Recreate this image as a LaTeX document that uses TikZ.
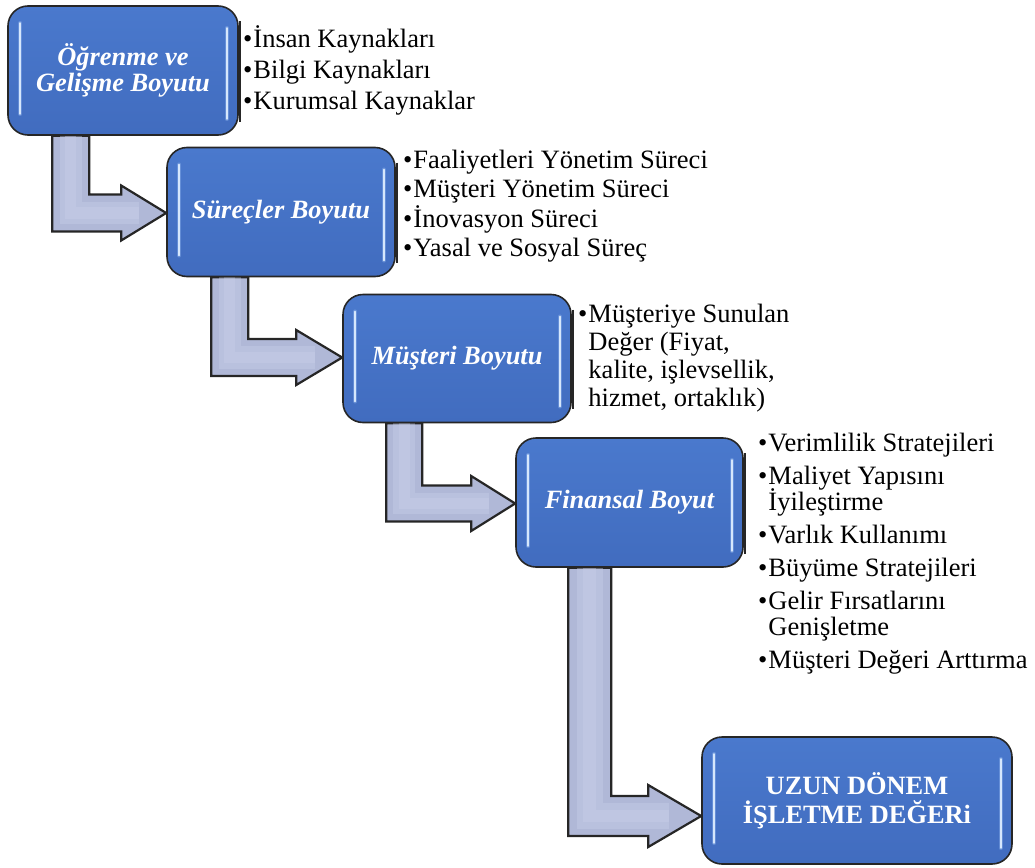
\documentclass[tikz,border=0pt]{standalone}
\usepackage{fontspec}
\setmainfont{Liberation Serif}
\usetikzlibrary{calc,backgrounds}

\definecolor{boxtop}{HTML}{4A79CD}
\definecolor{boxbot}{HTML}{416CBF}
\definecolor{glintcol}{HTML}{D6E7FC}
\definecolor{glowcol}{HTML}{8DB2EC}
\definecolor{arrowfill}{HTML}{B0B8D7}
\definecolor{arrowlight}{HTML}{C8CFEA}
\definecolor{edgecol}{HTML}{262626}

% bullet list set in a top-aligned minipage: #1 line distance, #2 gap between items, #3 items
\newcommand{\stagelist}[3]{%
  \begin{minipage}[t]{330pt}%
    \fontsize{26.5}{#1}\selectfont\lineskiplimit=-100pt\parindent=0pt\parskip=#2\relax
    \raggedright #3%
  \end{minipage}}
\newcommand{\blt}{\textbullet\hspace{1pt}}
\newcommand{\contind}{\hphantom{\textbullet\hspace{1pt}}}

% bent block arrow from the bottom of one stage into the left side of the next
% #1 from, #2 to, #3 stem offset, #4 stem width, #5 bar half width, #6 head half height, #7 head length, #8 tip drop
\newcommand{\stagearrow}[8]{%
  \draw[bentarrow] let \p1=(#1.south west), \p2=($(#2.west)+(0,#8)$) in
    (\x1+#3pt,\y1) -- (\x1+#3pt,\y2-#5pt) -- (\x2-#7pt,\y2-#5pt) -- (\x2-#7pt,\y2-#6pt)
    -- (\x2,\y2) -- (\x2-#7pt,\y2+#6pt) -- (\x2-#7pt,\y2+#5pt)
    -- (\x1+#3pt+#4pt,\y2+#5pt) -- (\x1+#3pt+#4pt,\y1) -- cycle;
  % soft light band along the middle of the body
  \draw[arrowsheen, line width=0.6*#4pt] let \p1=(#1.south west), \p2=($(#2.west)+(0,#8)$) in
    (\x1+#3pt+0.5*#4pt,\y1) -- (\x1+#3pt+0.5*#4pt,\y2) -- (\x2-0.6*#7pt,\y2);
  \draw[arrowsheen, line width=0.3*#4pt] let \p1=(#1.south west), \p2=($(#2.west)+(0,#8)$) in
    (\x1+#3pt+0.5*#4pt,\y1) -- (\x1+#3pt+0.5*#4pt,\y2) -- (\x2-0.6*#7pt,\y2);}

\tikzset{
  stage/.style={draw=edgecol, line width=1.6pt, rounded corners=20pt,
    top color=boxtop, bottom color=boxbot, text=white, align=center, inner sep=0pt,
    font=\fontsize{26.4}{26}\selectfont\bfseries\itshape},
  bentarrow/.style={draw=edgecol, line width=2.2pt, line join=miter, fill=arrowfill},
  arrowsheen/.style={arrowlight, opacity=0.4, line join=miter},
  glow/.style={glowcol, line width=4.5pt, line cap=round, opacity=0.45},
  glint/.style={glintcol, line width=2.2pt, line cap=round},
  panel/.style={edgecol, line width=2pt},
  listtext/.style={anchor=base west, inner sep=0pt, text=black}
}

\begin{document}
\begin{tikzpicture}[x=1pt, y=-1pt]
\useasboundingbox (0,0) rectangle (1035,867);

% stages
\node[stage, minimum width=230pt, minimum height=129pt] (b1) at (123,70.5) {Öğrenme ve\\Gelişme Boyutu};
\node[stage, minimum width=228pt, minimum height=129pt] (b2) at (281,212) {Süreçler Boyutu};
\node[stage, minimum width=228pt, minimum height=128pt] (b3) at (457,358.5) {Müşteri Boyutu};
\node[stage, minimum width=227pt, minimum height=129pt] (b4) at (629.5,502.5) {Finansal Boyut};
\node[stage, minimum width=310pt, minimum height=127pt,
      font=\fontsize{26.4}{29}\selectfont\bfseries] (b5) at (857,800.5) {UZUN DÖNEM\\İŞLETME DEĞERi};

% glossy edge highlights
\foreach \b in {b1,b2,b3,b4,b5}{
  \draw[glow]  ($(\b.north west)+(13,18)$) -- ($(\b.south west)+(13,-22)$);
  \draw[glint] ($(\b.north west)+(13,18)$) -- ($(\b.south west)+(13,-22)$);
  \draw[glow]  ($(\b.north east)+(-12,23)$) -- ($(\b.south east)+(-12,-17)$);
  \draw[glint] ($(\b.north east)+(-12,23)$) -- ($(\b.south east)+(-12,-17)$);
}
% dark edge of the text panels beside the stages
\foreach \b in {b1,b2,b3,b4}{
  \draw[panel] ($(\b.north east)+(1.2,16)$) -- ($(\b.south east)+(1.2,-14)$);
}

% connectors behind the stages
\begin{pgfonlayer}{background}
  \stagearrow{b1}{b2}{45}{37}{18.5}{27.5}{45}{1}
  \stagearrow{b2}{b3}{45}{37}{18.5}{27.5}{46}{-1}
  \stagearrow{b3}{b4}{44}{36}{18}{27.5}{44}{1}
  \stagearrow{b4}{b5}{53}{43}{20}{31}{53}{15.5}
\end{pgfonlayer}

% item lists
\node[listtext] (t1) at (243,47.5) {\stagelist{31}{0pt}{%
  \blt İnsan Kaynakları\par
  \blt Bilgi Kaynakları\par
  \blt Kurumsal Kaynaklar}};
\node[listtext] (t2) at (403,168) {\stagelist{29.6}{0pt}{%
  \blt Faaliyetleri Yönetim Süreci\par
  \blt Müşteri Yönetim Süreci\par
  \blt İnovasyon Süreci\par
  \blt Yasal ve Sosyal Süreç}};
\node[listtext] (t3) at (578,322) {\stagelist{28}{0pt}{%
  \blt Müşteriye Sunulan\\\contind Değer (Fiyat,\\\contind kalite, işlevsellik,\\\contind hizmet, ortaklık)}};
\node[listtext] (t4) at (758,451.5) {\stagelist{26}{7pt}{%
  \blt Verimlilik Stratejileri\par
  \blt Maliyet Yapısını\\\contind İyileştirme\par
  \blt Varlık Kullanımı\par
  \blt Büyüme Stratejileri\par
  \blt Gelir Fırsatlarını\\\contind Genişletme\par
  \blt Müşteri Değeri Arttırma}};
\end{tikzpicture}
\end{document}
